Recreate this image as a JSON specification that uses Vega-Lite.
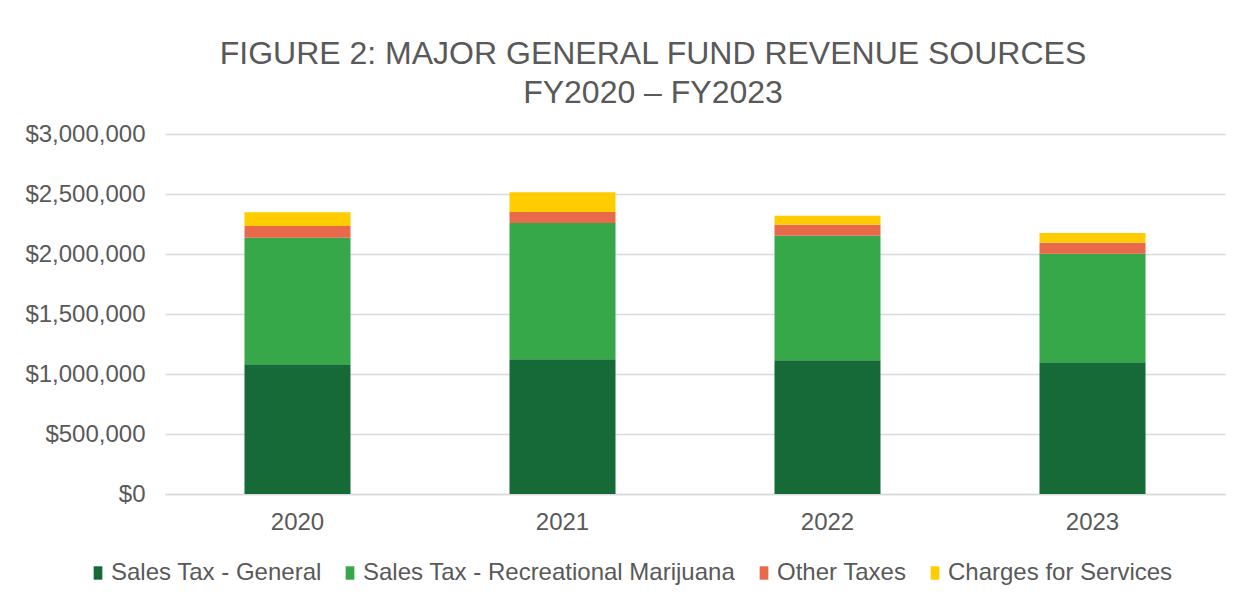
{
  "$schema": "https://vega.github.io/schema/vega-lite/v6.json",
  "width": 1060,
  "height": 360,
  "autosize": "none",
  "padding": {"left": 165, "top": 134, "right": 27, "bottom": 113},
  "background": "white",
  "title": {
    "text": ["FIGURE 2: MAJOR GENERAL FUND REVENUE SOURCES", "FY2020 – FY2023"],
    "font": "Liberation Sans",
    "fontSize": 32,
    "fontWeight": "normal",
    "color": "#595959",
    "anchor": "middle",
    "dx": -42,
    "offset": 12,
    "lineHeight": 39
  },
  "data": {
    "values": [
      {"year": "2020", "source": "Sales Tax - General", "amount": 1081000},
      {"year": "2020", "source": "Sales Tax - Recreational Marijuana", "amount": 1055000},
      {"year": "2020", "source": "Other Taxes", "amount": 97000},
      {"year": "2020", "source": "Charges for Services", "amount": 114000},
      {"year": "2021", "source": "Sales Tax - General", "amount": 1122000},
      {"year": "2021", "source": "Sales Tax - Recreational Marijuana", "amount": 1136000},
      {"year": "2021", "source": "Other Taxes", "amount": 92000},
      {"year": "2021", "source": "Charges for Services", "amount": 164000},
      {"year": "2022", "source": "Sales Tax - General", "amount": 1114000},
      {"year": "2022", "source": "Sales Tax - Recreational Marijuana", "amount": 1039000},
      {"year": "2022", "source": "Other Taxes", "amount": 91000},
      {"year": "2022", "source": "Charges for Services", "amount": 75000},
      {"year": "2023", "source": "Sales Tax - General", "amount": 1097000},
      {"year": "2023", "source": "Sales Tax - Recreational Marijuana", "amount": 906000},
      {"year": "2023", "source": "Other Taxes", "amount": 91000},
      {"year": "2023", "source": "Charges for Services", "amount": 81000}
    ]
  },
  "transform": [
    {"calculate": "indexof(['Sales Tax - General', 'Sales Tax - Recreational Marijuana', 'Other Taxes', 'Charges for Services'], datum.source)", "as": "stackOrder"}
  ],
  "mark": {"type": "bar"},
  "encoding": {
    "x": {
      "field": "year",
      "type": "ordinal",
      "scale": {"paddingInner": 0.6, "paddingOuter": 0.3},
      "axis": {
        "title": null,
        "labelAngle": 0,
        "labelFont": "Liberation Sans",
        "labelFontSize": 24,
        "labelColor": "#595959",
        "labelPadding": 16,
        "ticks": false,
        "domainColor": "#d9d9d9",
        "domainWidth": 1.5
      }
    },
    "y": {
      "field": "amount",
      "type": "quantitative",
      "stack": "zero",
      "scale": {"domain": [0, 3000000], "nice": false},
      "axis": {
        "title": null,
        "values": [0, 500000, 1000000, 1500000, 2000000, 2500000, 3000000],
        "format": "$,.0f",
        "labelFont": "Liberation Sans",
        "labelFontSize": 24,
        "labelColor": "#595959",
        "labelPadding": 20,
        "ticks": false,
        "domain": false,
        "gridColor": "#d9d9d9",
        "gridWidth": 1.5
      }
    },
    "color": {
      "field": "source",
      "type": "nominal",
      "scale": {
        "domain": ["Sales Tax - General", "Sales Tax - Recreational Marijuana", "Other Taxes", "Charges for Services"],
        "range": ["#156a38", "#37a84a", "#e86a4a", "#ffcc00"]
      },
      "legend": {
        "title": null,
        "orient": "none",
        "direction": "horizontal",
        "legendX": -79,
        "legendY": 427,
        "symbolType": "M-0.65,-1H0.65V1H-0.65Z",
        "symbolSize": 180,
        "symbolStrokeWidth": 0,
        "labelFont": "Liberation Sans",
        "labelFontSize": 24,
        "labelColor": "#595959",
        "labelOffset": 1,
        "columnPadding": 16,
        "labelLimit": 500
      }
    },
    "order": {"field": "stackOrder", "type": "quantitative", "sort": "ascending"}
  },
  "config": {"view": {"stroke": null}}
}
